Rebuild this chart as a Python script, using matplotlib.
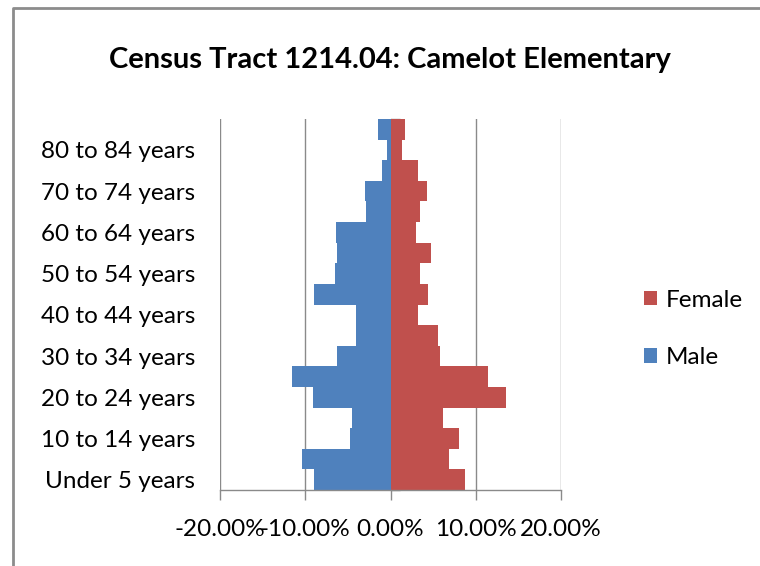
import matplotlib
matplotlib.use("Agg")
import matplotlib.pyplot as plt
from matplotlib.lines import Line2D
import numpy as np

categories = ["Under 5 years", "5 to 9 years", "10 to 14 years", "15 to 19 years",
              "20 to 24 years", "25 to 29 years", "30 to 34 years", "35 to 39 years",
              "40 to 44 years", "45 to 49 years", "50 to 54 years", "55 to 59 years",
              "60 to 64 years", "65 to 69 years", "70 to 74 years", "75 to 79 years",
              "80 to 84 years", "85 years and over"]
male = [-8.92, -10.33, -4.74, -4.46, -9.08, -11.5, -6.22, -4.10, -3.99, -8.92,
        -6.50, -6.26, -6.34, -2.90, -3.00, -1.02, -0.39, -1.41]
female = [8.76, 6.84, 8.02, 6.18, 13.57, 11.46, 5.79, 5.59, 3.20, 4.42,
          3.48, 4.73, 3.00, 3.48, 4.26, 3.20, 1.36, 1.71]
xticks = [-20, -10, 0, 10, 20]
xtick_labels = ["-20.00%", "-10.00%", "0.00%", "10.00%", "20.00%"]

FONT = ["Lato", "DejaVu Sans"]
plt.rcParams["font.family"] = FONT
LBL = 17.5
GRID = "#8a8a8a"
BLUE = "#4F81BD"
RED = "#C0504D"

W, H = 760, 566
fig = plt.figure(figsize=(W / 100, H / 100), dpi=100)
ax = fig.add_axes([220 / W, 1 - 490 / H, (561 - 220) / W, (490 - 119) / H])

y = np.arange(len(categories))
bm = ax.barh(y, male, height=1.0, color=BLUE, label="Male", zorder=2)
bf = ax.barh(y, female, height=1.0, color=RED, label="Female", zorder=2)

ax.set_xlim(-20, 20)
ax.set_ylim(-0.5, len(categories) - 0.5)

ax.set_xticks(xticks)
ax.set_xticklabels(xtick_labels, fontsize=LBL)
ax.tick_params(axis="x", direction="out", length=7, width=1, color=GRID, pad=14)
ax.grid(axis="x", color=GRID, linewidth=1, zorder=0)
ax.set_axisbelow(True)

ax.set_yticks(y[::2])
ax.set_yticklabels(categories[::2], fontsize=LBL)
ax.tick_params(axis="y", length=0, pad=18)

for s in ["top", "right", "left"]:
    ax.spines[s].set_visible(False)
ax.spines["bottom"].set_color(GRID)
ax.spines["bottom"].set_linewidth(1)

# category axis at zero with boundary ticks
sec = ax.secondary_yaxis(0.5)
sec.set_yticks(np.arange(len(categories) + 1) - 0.5)
sec.set_yticklabels([])
sec.tick_params(axis="y", direction="out", length=6.5, width=1, color=GRID)
sec.spines["left"].set_color(GRID)
sec.spines["left"].set_linewidth(1)

fig.text(390 / W, 1 - 60 / H, "Census Tract 1214.04: Camelot Elementary",
         ha="center", va="center", fontsize=21, fontweight="bold")

leg = ax.legend(handles=[bf, bm], loc="center left",
                bbox_to_anchor=(644 / W, 1 - 329 / H), bbox_transform=fig.transFigure,
                frameon=False, fontsize=LBL, handlelength=0.55, handleheight=0.55,
                handletextpad=0.35, labelspacing=1.5, borderpad=0, borderaxespad=0)

# outer chart border (top and left edges visible)
fig.add_artist(Line2D([13 / W, 13 / W, 1.0], [0.0, 1 - 8 / H, 1 - 8 / H],
                      transform=fig.transFigure, color="#8c8c8c", linewidth=2))

fig.savefig("out.png", dpi=100)
